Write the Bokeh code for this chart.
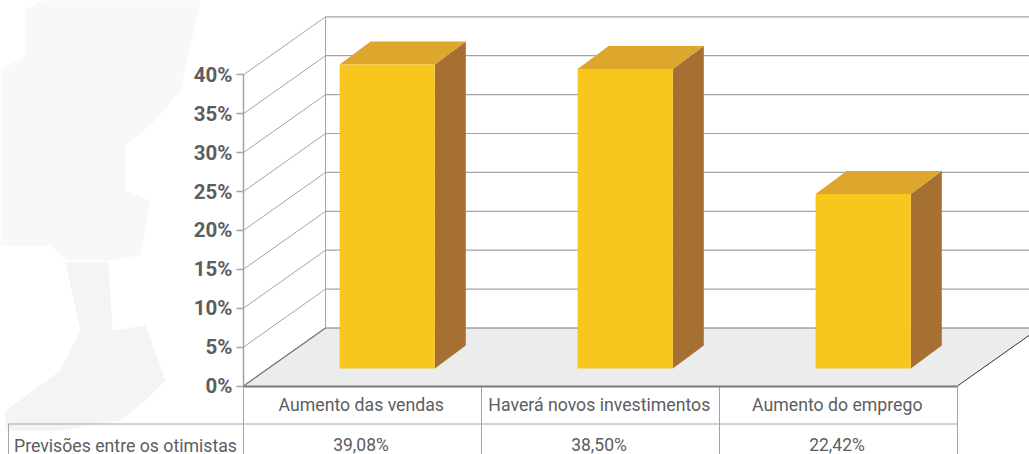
from bokeh.plotting import figure
from bokeh.models import LinearAxis, FixedTicker, Range1d
from bokeh.core.properties import value
from bokeh.embed import file_html
from bokeh.resources import INLINE

categories = ["Aumento das vendas", "Haverá novos investimentos", "Aumento do emprego"]
series_name = "Previsões entre os otimistas"
series_values = [39.08, 38.50, 22.42]
value_labels = ["39,08%", "38,50%", "22,42%"]
y_ticks = [0, 5, 10, 15, 20, 25, 30, 35, 40]
y_tick_labels = ["0%", "5%", "10%", "15%", "20%", "25%", "30%", "35%", "40%"]

# scales: reference pixels <-> data
PX_PER_PCT = 7.78
PX_PER_CAT = 238.0
X0, Y0 = 243.0, 385.5
W, H = 1029, 454
def dx(px): return (px - X0) / PX_PER_CAT
def dy(py): return (Y0 - py) / PX_PER_PCT

p = figure(width=W, height=H, output_backend="svg", toolbar_location=None,
           x_range=Range1d(dx(0), dx(1029)), y_range=Range1d(dy(454), dy(0)),
           x_axis_type=None, y_axis_type=None, min_border=0, outline_line_color=None)
p.grid.visible = False
p.background_fill_color = "white"
p.border_fill_color = "white"

FONT = "Roboto"
TXT = "#5c5d5f"
GRID = "#a3a4a6"
EDGE = "#77787b"

# faint background shapes
for xs, ys, col in [
    ([0, 25, 25, 40, 200, 180, 150, 125, 125, 150, 140, 110, 65, 50, 0],
     [70, 55, 10, 0, 0, 90, 125, 145, 190, 200, 255, 260, 260, 245, 245], "#f8f8f8"),
    ([65, 108, 112, 145, 165, 145, 120, 60, 5, 5, 60, 80],
     [262, 262, 330, 325, 380, 400, 420, 430, 430, 410, 370, 330], "#f4f4f4"),
]:
    p.patch([dx(v) for v in xs], [dy(v) for v in ys], fill_color=col, line_color=None)

# 3D depth of the chart box and bars
BOX_DX, BOX_DY = 82 / PX_PER_CAT, 58 / PX_PER_PCT
BAR_DX, BAR_DY = 31 / PX_PER_CAT, 23 / PX_PER_PCT
FLOOR_DX, FLOOR_DY = 24.7 / PX_PER_CAT, 17.5 / PX_PER_PCT
BAR_W = 0.4
n = len(categories)
right = dx(1029)

# floor
p.patch([0, BOX_DX, n + BOX_DX, n], [0, BOX_DY, BOX_DY, 0],
        fill_color="#ebecec", line_color=None)

# walls: gridlines
for t in y_ticks:
    p.line([0, BOX_DX], [t, t + BOX_DY], line_color=GRID, line_width=1)
    p.line([BOX_DX, right], [t + BOX_DY, t + BOX_DY],
           line_color=EDGE if t == 0 else GRID, line_width=1.2)
p.line([BOX_DX, BOX_DX], [BOX_DY, y_ticks[-1] + BOX_DY], line_color=GRID, line_width=1)
p.line([0, BOX_DX], [0, BOX_DY], line_color=EDGE, line_width=1.2)
p.line([n, n + BOX_DX], [0, BOX_DY], line_color="#333333", line_width=1)

# bars
centers = [i + 0.5 + FLOOR_DX for i in range(n)]
lefts = [c - BAR_W / 2 for c in centers]
rights = [c + BAR_W / 2 for c in centers]
bottoms = [FLOOR_DY] * n
tops = [FLOOR_DY + v for v in series_values]
p.patches([[r, r + BAR_DX, r + BAR_DX, r] for r in rights],
          [[b, b + BAR_DY, t + BAR_DY, t] for b, t in zip(bottoms, tops)],
          fill_color="#a67032", line_color=None)
p.patches([[l, l + BAR_DX, r + BAR_DX, r] for l, r in zip(lefts, rights)],
          [[t, t + BAR_DY, t + BAR_DY, t] for t in tops],
          fill_color="#dca72c", line_color=None)
p.vbar(x=centers, width=BAR_W, bottom=bottoms, top=tops,
       fill_color="#f9c61e", line_color=None)

# table lines
ROW1 = dy(423.5)
BOTTOM = dy(460)
p.line([dx(8), n], [ROW1, ROW1], line_color=GRID, line_width=1)
p.line([dx(8), dx(8)], [ROW1, BOTTOM], line_color=GRID, line_width=1)
for i in range(n + 1):
    p.line([i, i], [0, BOTTOM], line_color=GRID, line_width=1)

# table texts
p.text(x=[i + 0.5 - 1.5 / PX_PER_CAT for i in range(n)], y=[dy(444)] * n, text=value_labels,
       text_font=value(FONT), text_font_size="17.5px", text_color=TXT,
       text_align="center", text_baseline="middle")
p.text(x=[dx(236.5)], y=[dy(445)], text=[series_name],
       text_font=value(FONT), text_font_size="17.7px", text_color=TXT,
       text_align="right", text_baseline="middle")

# axes
yaxis = LinearAxis(fixed_location=0, bounds=(0, 40),
                   ticker=FixedTicker(ticks=y_ticks),
                   major_label_overrides=dict(zip(y_ticks, y_tick_labels)),
                   axis_line_color=GRID, axis_line_width=1.5,
                   major_tick_line_color=GRID, major_tick_line_width=1.5,
                   major_tick_in=0, major_tick_out=7, minor_tick_line_color=None,
                   major_label_standoff=4,
                   major_label_text_font=FONT, major_label_text_font_size="20.5px",
                   major_label_text_font_style="bold", major_label_text_color=TXT)
p.add_layout(yaxis, "left")
xaxis = LinearAxis(fixed_location=0, bounds=(0, n),
                   ticker=FixedTicker(ticks=[i + 0.495 for i in range(n)]),
                   major_label_overrides={i + 0.495: c for i, c in enumerate(categories)},
                   axis_line_color=EDGE, axis_line_width=2,
                   major_tick_line_color=None, minor_tick_line_color=None,
                   major_tick_in=0, major_tick_out=0,
                   major_label_standoff=9,
                   major_label_text_font=FONT, major_label_text_font_size="17.7px",
                   major_label_text_color=TXT)
p.add_layout(xaxis, "below")

open("out.html", "w").write(file_html(p, INLINE))
